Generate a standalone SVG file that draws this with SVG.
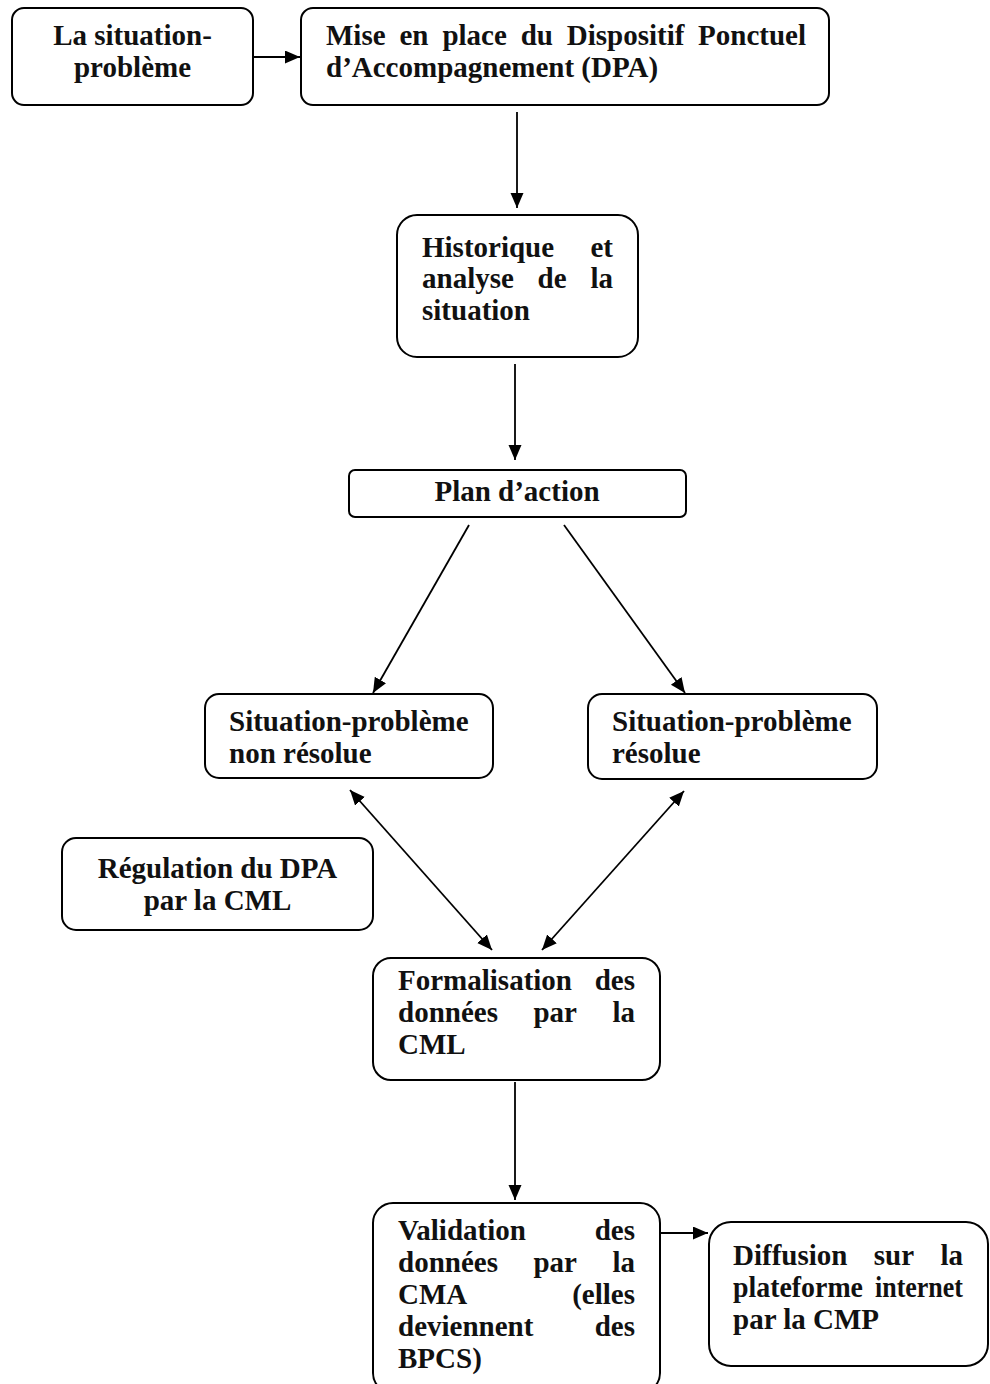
<svg xmlns="http://www.w3.org/2000/svg" width="990" height="1384" viewBox="0 0 990 1384">
<style>
.box{fill:#fff;stroke:#000;stroke-width:2}
.t{font-family:"Liberation Serif","Times New Roman",serif;font-weight:bold;font-size:29px;fill:#111}
.m{text-anchor:middle}
.e{text-anchor:end}
.c{fill:none;stroke:#000;stroke-width:1.8}
</style>
<defs>
<marker id="ah" markerUnits="userSpaceOnUse" markerWidth="16" markerHeight="14" refX="15" refY="6.5" orient="auto-start-reverse">
<path d="M0,0 L15,6.5 L0,13 z" fill="#000"/>
</marker>
</defs>
<rect width="990" height="1384" fill="#fff"/>
<g id="connectors">
<line class="c" x1="253" y1="57" x2="300" y2="57" marker-end="url(#ah)"/>
<line class="c" x1="517" y1="112" x2="517" y2="208" marker-end="url(#ah)"/>
<line class="c" x1="515" y1="364" x2="515" y2="460" marker-end="url(#ah)"/>
<line class="c" x1="469" y1="525" x2="373" y2="693" marker-end="url(#ah)"/>
<line class="c" x1="564" y1="525" x2="685" y2="693" marker-end="url(#ah)"/>
<line class="c" x1="350" y1="790" x2="492" y2="950" marker-start="url(#ah)" marker-end="url(#ah)"/>
<line class="c" x1="684" y1="791" x2="542" y2="950" marker-start="url(#ah)" marker-end="url(#ah)"/>
<line class="c" x1="515" y1="1082" x2="515" y2="1200" marker-end="url(#ah)"/>
<line class="c" x1="661" y1="1233" x2="708" y2="1233" marker-end="url(#ah)"/>
</g>
<g id="n1">
<rect class="box" x="12" y="8" width="241" height="97" rx="12"/>
<text class="t m" x="132.5" y="45">La situation-</text>
<text class="t m" x="132.5" y="77">problème</text>
</g>
<g id="n2">
<rect class="box" x="301" y="8" width="528" height="97" rx="12"/>
<text class="t" y="45"><tspan x="326">Mise</tspan><tspan x="399.5">en</tspan><tspan x="442.4">place</tspan><tspan x="520.7">du</tspan><tspan x="566.8">Dispositif</tspan></text>
<text class="t e" x="806" y="45">Ponctuel</text>
<text class="t" x="326" y="77">d’Accompagnement (DPA)</text>
</g>
<g id="n3">
<rect class="box" x="397" y="215" width="241" height="142" rx="20"/>
<text class="t" x="422" y="257">Historique</text>
<text class="t e" x="613" y="257">et</text>
<text class="t" y="288"><tspan x="422">analyse</tspan><tspan x="537.6">de</tspan></text>
<text class="t e" x="613" y="288">la</text>
<text class="t" x="422" y="320">situation</text>
</g>
<g id="n4">
<rect class="box" x="349" y="470" width="337" height="47" rx="6"/>
<text class="t m" x="517" y="501">Plan d’action</text>
</g>
<g id="n5">
<rect class="box" x="205" y="694" width="288" height="84" rx="14"/>
<text class="t" x="229" y="731">Situation-problème</text>
<text class="t" x="229" y="763">non résolue</text>
</g>
<g id="n6">
<rect class="box" x="588" y="694" width="289" height="85" rx="14"/>
<text class="t" x="612" y="731">Situation-problème</text>
<text class="t" x="612" y="763">résolue</text>
</g>
<g id="n7">
<rect class="box" x="62" y="838" width="311" height="92" rx="14"/>
<text class="t m" x="217.5" y="878">Régulation du DPA</text>
<text class="t m" x="217.5" y="910">par la CML</text>
</g>
<g id="n8">
<rect class="box" x="373" y="958" width="287" height="122" rx="18"/>
<text class="t" x="398" y="990">Formalisation</text>
<text class="t e" x="635" y="990">des</text>
<text class="t" y="1022"><tspan x="398">données</tspan><tspan x="533.4">par</tspan></text>
<text class="t e" x="635" y="1022">la</text>
<text class="t" x="398" y="1054">CML</text>
</g>
<g id="n9">
<rect class="box" x="373" y="1203" width="287" height="190" rx="20"/>
<text class="t" x="398" y="1240">Validation</text>
<text class="t e" x="635" y="1240">des</text>
<text class="t" y="1272"><tspan x="398">données</tspan><tspan x="533.4">par</tspan></text>
<text class="t e" x="635" y="1272">la</text>
<text class="t" x="398" y="1304">CMA</text>
<text class="t e" x="635" y="1304">(elles</text>
<text class="t" x="398" y="1336">deviennent</text>
<text class="t e" x="635" y="1336">des</text>
<text class="t" x="398" y="1368">BPCS)</text>
</g>
<g id="n10">
<rect class="box" x="709" y="1222" width="279" height="144" rx="22"/>
<text class="t" y="1265"><tspan x="733">Diffusion</tspan><tspan x="873.8">sur</tspan></text>
<text class="t e" x="963" y="1265">la</text>
<text class="t" x="733" y="1297" textLength="130" lengthAdjust="spacingAndGlyphs">plateforme</text>
<text class="t" x="875" y="1297" textLength="88" lengthAdjust="spacingAndGlyphs">internet</text>
<text class="t" x="733" y="1329">par la CMP</text>
</g>
</svg>
